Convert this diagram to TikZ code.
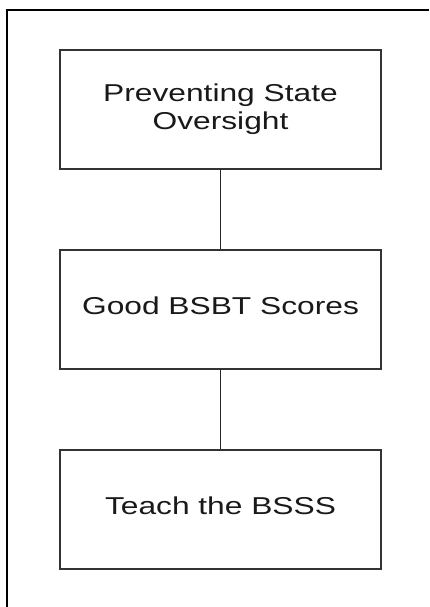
\documentclass[tikz,border=0pt]{standalone}
\usepackage{fontspec}
\newfontfamily\boxfont[FakeStretch=1.3]{Liberation Sans}
\begin{document}
\begin{tikzpicture}[x=1pt,y=-1pt,
  stagebox/.style={draw=black!80, line width=2pt, minimum width=321pt, minimum height=119pt,
    inner sep=0pt, align=center, text=black!90, text depth=8pt,
    font=\boxfont\fontsize{24.4pt}{28.5pt}\selectfont},
  link/.style={draw=black!85, line width=1.8pt}]
  \useasboundingbox (0,0) rectangle (429,607);
  \fill[white] (0,0) rectangle (429,607);
  % outer frame, running off the right and bottom edges
  \draw[line width=2pt, black] (429,10) -- (7,10) -- (7,607);
  \node[stagebox, text depth=6pt] (oversight) at (220.5,109.5) {Preventing State\\Oversight};
  \node[stagebox] (scores) at (220.5,309.5) {Good BSBT Scores};
  \node[stagebox] (teach) at (220.5,509.5) {Teach the BSSS};
  \draw[link] (oversight) -- (scores);
  \draw[link] (scores) -- (teach);
\end{tikzpicture}
\end{document}
